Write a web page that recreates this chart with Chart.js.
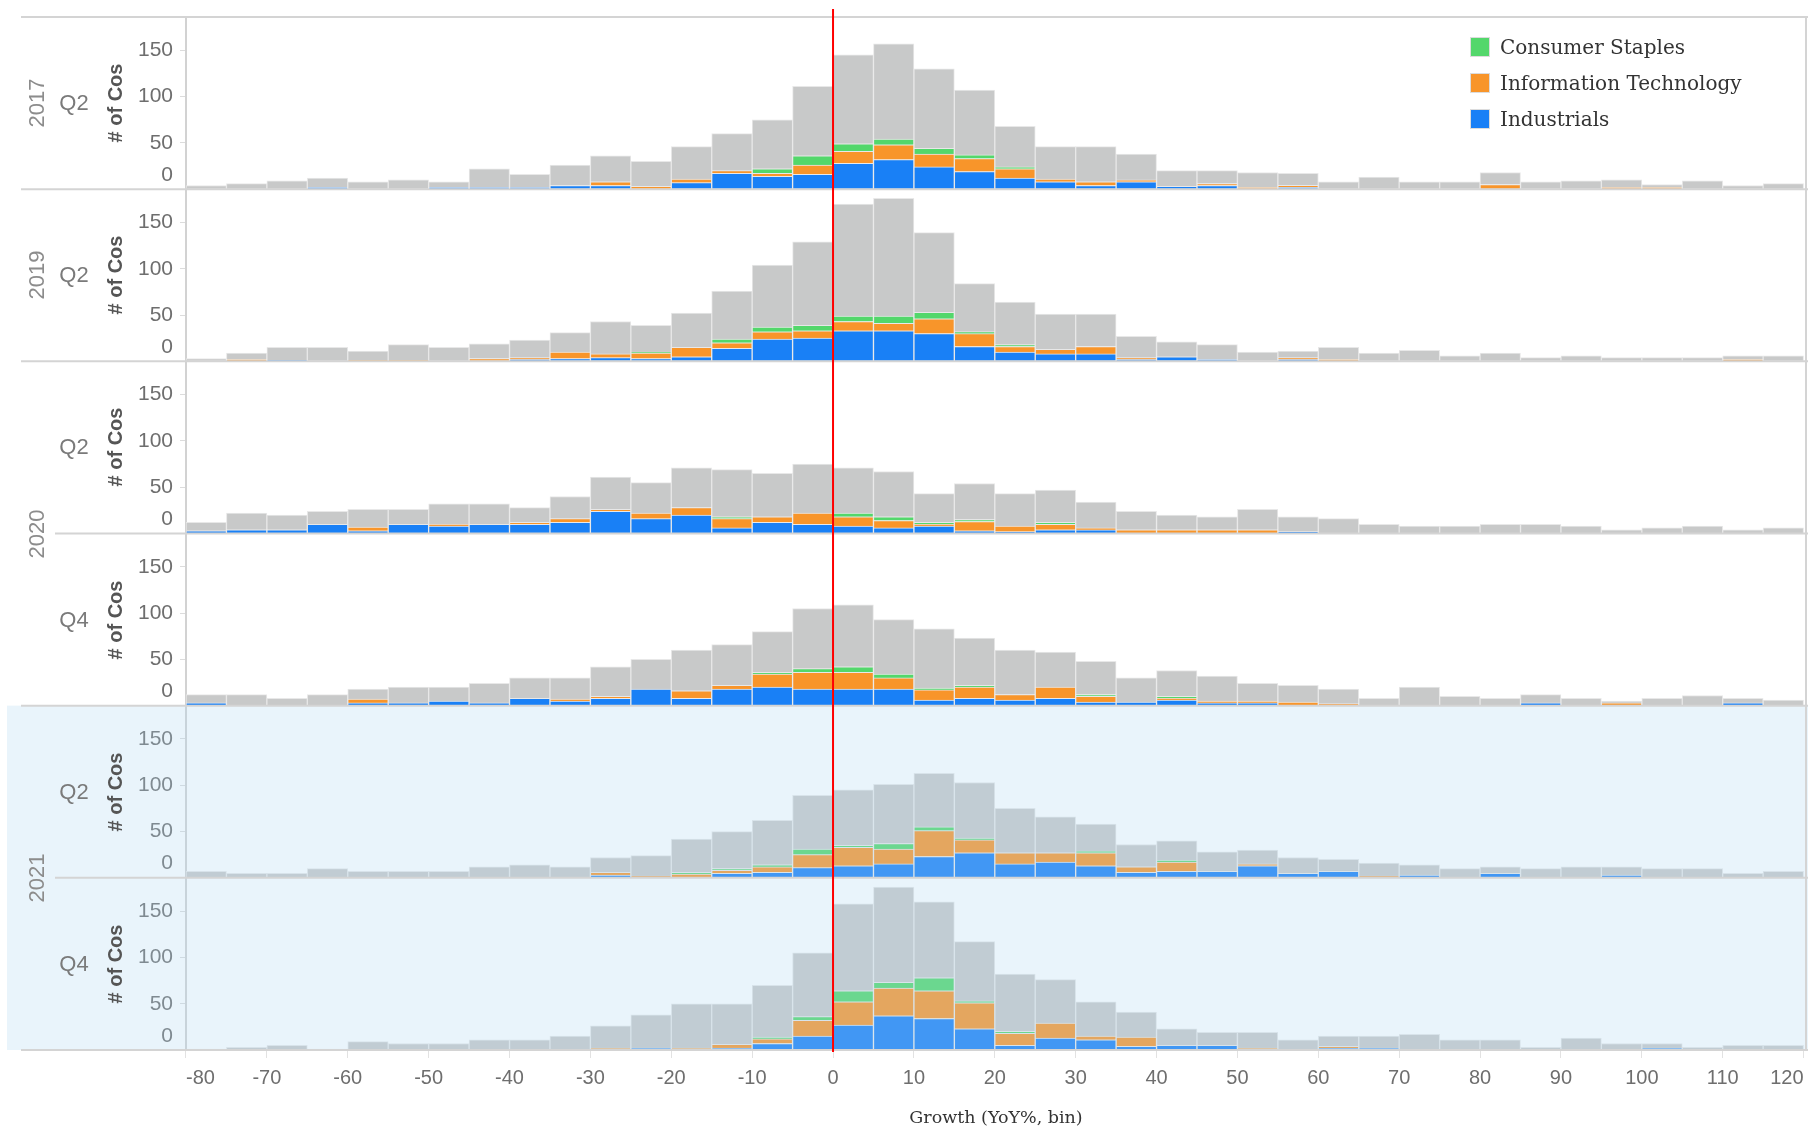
<!DOCTYPE html>
<html>
<head>
<meta charset="utf-8">
<script src="https://cdn.jsdelivr.net/npm/chart.js@4.4.1/dist/chart.umd.min.js"></script>
<style>
  html, body { margin: 0; padding: 0; background: #fff; }
  #wrap { position: relative; width: 1808px; height: 1132px; overflow: hidden; }
  #chart { position: absolute; left: 0; top: 0; }
  .lbl { position: absolute; white-space: nowrap; line-height: 1; font-family: "Liberation Sans", Arial, sans-serif; }
  .rot { transform: translate(-50%, -50%) rotate(-90deg); }
  .ctr { transform: translate(-50%, -50%); }
  .yr  { font-size: 22px; color: #8c8c8c; }
  .qt  { font-size: 22px; color: #7a7a7a; }
  .ttl { font-size: 20px; font-weight: bold; color: #555; }
  #legend { position: absolute; left: 1470px; top: 29px; font-family: "DejaVu Serif", serif; font-size: 20px; color: #333; }
  #legend .row { display: flex; align-items: center; height: 36px; }
  #legend .sw { width: 20px; height: 20px; border: 1px solid #dcdcdc; margin-right: 10px; box-sizing: border-box; }
</style>
</head>
<body>
<div id="wrap">
  <canvas id="chart" width="1808" height="1132"></canvas>
  <div id="legend"></div>
</div>
<script>
// Growth bins (lower edge of each 5-point bin, YoY %)
const binStarts = [-80, -75, -70, -65, -60, -55, -50, -45, -40, -35,
                   -30, -25, -20, -15, -10, -5, 0, 5, 10, 15,
                   20, 25, 30, 35, 40, 45, 50, 55, 60, 65,
                   70, 75, 80, 85, 90, 95, 100, 105, 110, 115];
const binWidth = 5;

const growthTicks = [-80, -70, -60, -50, -40, -30, -20, -10, 0, 10, 20, 30, 40, 50, 60, 70, 80, 90, 100, 110, 120];
const countTicks = [0, 50, 100, 150];
const countTitle = '# of Cos';
const growthTitle = 'Growth (YoY%, bin)';
const highlightYear = '2021';

// Company counts per bin, by sector, for each reporting period
const industrials_2017Q2 = [0,0,0,2,0,0,2,2,2,4, 4,0,7,17,14,16,28,32,24,19, 12,8,4,8,3,4,0,2,0,0, 0,0,0,0,0,0,0,0,0,0];
const infoTech_2017Q2    = [0,0,0,0,0,0,0,0,0,0, 4,3,4,3,3,10,13,16,14,14, 10,3,4,2,0,2,2,2,0,0, 0,0,5,0,0,2,2,0,0,0];
const staples_2017Q2     = [0,0,0,0,0,0,0,0,0,0, 0,0,0,0,5,10,8,6,6,4, 2,0,0,0,0,0,0,0,0,0, 0,0,0,0,0,0,0,0,0,0];
const others_2017Q2      = [4,6,9,10,8,10,6,20,14,22, 28,27,35,40,53,75,96,103,86,70, 44,35,38,28,17,14,16,13,8,13, 8,8,13,8,9,8,3,9,4,6];

const industrials_2019Q2 = [0,0,1,0,0,0,0,0,2,3, 4,3,5,14,24,25,33,33,30,16, 10,8,8,2,5,2,0,2,0,0, 0,0,0,0,0,0,0,0,0,0];
const infoTech_2019Q2    = [0,2,0,0,1,1,0,3,2,7, 4,6,10,6,8,8,10,8,16,14, 6,5,8,2,0,0,0,2,2,0, 0,0,0,0,0,0,0,0,2,0];
const staples_2019Q2     = [0,0,0,0,0,0,0,0,0,0, 0,1,0,4,5,6,6,8,7,2, 2,0,0,0,0,0,0,0,0,0, 0,0,0,0,0,0,0,0,0,0];
const others_2019Q2      = [3,7,14,15,10,17,15,16,19,21, 35,29,37,52,67,90,121,127,86,52, 46,38,35,23,16,16,10,7,13,9, 12,6,9,4,6,4,4,4,4,6];

const industrials_2020Q2 = [3,4,4,10,3,10,8,10,10,12, 24,16,20,6,12,10,8,6,8,3, 2,4,4,0,0,0,0,2,0,0, 0,0,0,0,0,0,0,0,0,0];
const infoTech_2020Q2    = [0,0,0,0,4,0,2,0,2,4, 2,6,8,10,6,12,10,8,2,10, 6,6,2,4,4,4,4,0,0,0, 0,0,0,0,0,0,0,0,0,0];
const staples_2020Q2     = [0,0,0,0,0,0,0,0,0,0, 0,0,0,2,0,0,4,4,2,2, 0,2,0,0,0,0,0,0,0,0, 0,0,0,0,0,0,0,0,0,0];
const others_2020Q2      = [9,18,16,14,19,16,22,22,16,24, 35,33,43,51,47,53,49,49,31,39, 35,35,28,20,16,14,22,16,16,10, 8,8,10,10,8,4,6,8,4,6];

const industrials_2020Q4 = [3,0,0,0,3,3,5,3,8,5, 8,18,8,18,20,18,18,18,6,8, 6,8,4,4,6,3,3,0,0,0, 0,0,0,3,0,0,0,0,3,0];
const infoTech_2020Q4    = [0,0,0,0,4,0,0,0,0,2, 2,0,8,4,14,18,18,12,11,12, 6,12,6,0,2,2,2,4,2,0, 0,0,0,0,0,3,0,0,0,0];
const staples_2020Q4     = [0,0,0,0,0,0,0,0,0,0, 0,0,0,0,2,4,6,4,2,2, 0,0,2,0,2,0,0,0,0,0, 0,0,0,0,0,0,0,0,0,0];
const others_2020Q4      = [9,12,8,12,11,17,15,21,22,23, 32,32,44,44,44,65,67,59,64,51, 48,38,36,26,28,27,19,18,16,8, 20,10,8,9,8,2,8,11,5,6];

const industrials_2021Q2 = [0,0,0,0,0,0,0,0,0,0, 3,0,0,5,6,11,13,15,23,27, 15,17,13,6,7,7,13,5,7,0, 3,0,5,0,0,3,0,0,0,0];
const infoTech_2021Q2    = [0,0,0,0,0,0,0,0,0,0, 3,2,4,3,6,14,20,16,28,14, 12,10,14,6,10,0,2,0,0,2, 0,0,0,0,0,0,0,0,0,0];
const staples_2021Q2     = [0,0,0,0,0,0,0,0,0,0, 0,0,2,2,2,6,2,6,4,2, 0,0,2,0,2,0,0,0,0,0, 0,0,0,0,0,0,0,0,0,0];
const others_2021Q2      = [7,5,5,10,7,7,7,12,14,12, 16,22,36,40,48,58,60,64,58,60, 48,39,29,24,21,21,15,17,13,14, 11,10,7,10,12,9,10,10,5,7];

const industrials_2021Q4 = [0,0,0,0,0,0,0,0,0,0, 0,2,0,2,7,15,27,37,34,23, 5,13,11,4,5,5,0,0,2,2, 0,0,0,0,0,0,2,0,0,0];
const infoTech_2021Q4    = [0,0,0,0,0,0,0,0,0,0, 2,0,2,4,5,17,25,30,30,28, 13,16,4,10,0,0,2,0,2,0, 0,0,0,0,0,0,0,0,0,0];
const staples_2021Q4     = [0,0,0,0,0,0,0,0,0,0, 0,0,0,0,2,4,12,6,14,2, 2,0,0,0,0,0,0,0,0,0, 0,0,0,0,0,0,0,0,0,0];
const others_2021Q4      = [1,3,5,1,9,7,7,11,11,15, 24,36,48,44,56,69,94,103,82,64, 62,47,37,27,18,14,17,11,11,13, 17,11,11,3,13,7,5,3,5,5];

// Sectors in stacking order (bottom to top)
const sectors = [
  { key: 'ind',    label: 'Industrials',            color: '#1980f6', legend: true },
  { key: 'it',     label: 'Information Technology', color: '#f8952a', legend: true },
  { key: 'cs',     label: 'Consumer Staples',       color: '#53d76b', legend: true },
  { key: 'other',  label: 'Other sectors',          color: '#c8c9c9', legend: false }
];

const panels = [
  { year: '2017', quarter: 'Q2', ind: industrials_2017Q2, it: infoTech_2017Q2, cs: staples_2017Q2, other: others_2017Q2 },
  { year: '2019', quarter: 'Q2', ind: industrials_2019Q2, it: infoTech_2019Q2, cs: staples_2019Q2, other: others_2019Q2 },
  { year: '2020', quarter: 'Q2', ind: industrials_2020Q2, it: infoTech_2020Q2, cs: staples_2020Q2, other: others_2020Q2 },
  { year: '2020', quarter: 'Q4', ind: industrials_2020Q4, it: infoTech_2020Q4, cs: staples_2020Q4, other: others_2020Q4 },
  { year: '2021', quarter: 'Q2', ind: industrials_2021Q2, it: infoTech_2021Q2, cs: staples_2021Q2, other: others_2021Q2 },
  { year: '2021', quarter: 'Q4', ind: industrials_2021Q4, it: infoTech_2021Q4, cs: staples_2021Q4, other: others_2021Q4 }
];

// One stacked-bar dataset per sector per period, each period on its own y axis
const datasets = [];
panels.forEach((p, k) => {
  sectors.forEach(s => {
    datasets.push({
      label: s.label + ' ' + p.year + ' ' + p.quarter,
      data: binStarts.map((b, i) => ({ x: b + binWidth / 2, y: p[s.key][i] })),
      yAxisID: 'y' + k,
      backgroundColor: s.color,
      borderColor: '#e8e8e8',
      borderWidth: 1,
      grouped: false,
      barPercentage: 1,
      categoryPercentage: 1
    });
  });
});

const tickFont = { family: '"Liberation Sans", Arial, sans-serif', size: 21 };

const scales = {
  x: {
    type: 'linear',
    position: 'bottom',
    offset: false,
    min: -80,
    max: 120.3,
    afterFit: s => { s.height = 82; s.paddingLeft = 0; s.paddingRight = 0; },
    afterBuildTicks: s => { s.ticks = growthTicks.map(v => ({ value: v })); },
    ticks: { align: 'inner', autoSkip: false, maxRotation: 0, padding: 8,
             font: { family: '"Liberation Sans", Arial, sans-serif', size: 20 }, color: '#6e6e6e' },
    grid: { offset: false, drawOnChartArea: false, drawTicks: true, tickLength: 8, color: '#e2e2e2' },
    border: { display: false },
    title: { display: true, text: growthTitle, color: '#333',
             font: { family: '"DejaVu Serif", serif', size: 17.5 }, padding: { top: 0, bottom: 3 } }
  }
};
panels.forEach((p, k) => {
  scales['y' + k] = {
    type: 'linear',
    position: 'left',
    stack: 'periods',
    stackWeight: 1,
    weight: panels.length - k,
    stacked: true,
    min: 0,
    max: 186,
    afterFit: s => { s.width = 64; s.paddingTop = 0; s.paddingBottom = 0; },
    afterBuildTicks: s => { s.ticks = countTicks.map(v => ({ value: v })); },
    ticks: {
      // the zero label sits just above the baseline
      callback: v => (v === 0 ? ['0', ''] : String(v)),
      autoSkip: false,
      font: Object.assign({ lineHeight: 1.35 }, tickFont),
      color: '#6e6e6e',
      padding: 7
    },
    grid: { drawOnChartArea: false, drawTicks: true, tickLength: 6, color: '#dcdcdc' },
    border: { display: true, color: '#d2d2d2', width: 2 }
  };
});

// Row banding, panel separators and the zero-growth marker
const panelFrame = {
  id: 'panelFrame',
  afterDatasetsDraw(chart) {
    const ctx = chart.ctx;
    const area = chart.chartArea;
    const ys = panels.map((p, k) => chart.scales['y' + k]);
    ctx.save();

    const hl = panels.map((p, k) => k).filter(k => panels[k].year === highlightYear);
    if (hl.length) {
      const top = ys[hl[0]].top;
      const bottom = ys[hl[hl.length - 1]].bottom;
      ctx.fillStyle = 'rgba(173, 216, 240, 0.27)';
      ctx.fillRect(7, top, chart.width - 7, bottom - top);
    }

    ctx.strokeStyle = '#d4d4d4';
    ctx.lineWidth = 2;
    const hline = (x0, y) => { ctx.beginPath(); ctx.moveTo(x0, y); ctx.lineTo(chart.width, y); ctx.stroke(); };
    hline(21, area.top);
    panels.forEach((p, k) => {
      const next = panels[k + 1];
      hline(next && next.year === p.year ? 55 : 21, ys[k].bottom);
    });
    ctx.beginPath();
    ctx.moveTo(area.right, area.top);
    ctx.lineTo(area.right, area.bottom);
    ctx.stroke();

    const xz = chart.scales.x.getPixelForValue(0);
    ctx.strokeStyle = '#ff0000';
    ctx.lineWidth = 2;
    ctx.beginPath();
    ctx.moveTo(xz, area.top - 8);
    ctx.lineTo(xz, area.bottom + 2);
    ctx.stroke();
    ctx.restore();
  }
};

const chart = new Chart(document.getElementById('chart'), {
  type: 'bar',
  data: { datasets },
  options: {
    responsive: false,
    animation: false,
    devicePixelRatio: 1,
    layout: { padding: { left: 122, top: 17, right: 2, bottom: 0 } },
    plugins: { legend: { display: false }, tooltip: { enabled: false } },
    scales
  },
  plugins: [panelFrame]
});

// Row headers: year, quarter and axis title for each period
const wrap = document.getElementById('wrap');
function addLabel(text, cls, x, y) {
  const d = document.createElement('div');
  d.className = 'lbl ' + cls;
  d.textContent = text;
  d.style.left = x + 'px';
  d.style.top = y + 'px';
  wrap.appendChild(d);
}
[...new Set(panels.map(p => p.year))].forEach(yr => {
  const ks = panels.map((p, k) => k).filter(k => panels[k].year === yr);
  const top = chart.scales['y' + ks[0]].top;
  const bottom = chart.scales['y' + ks[ks.length - 1]].bottom;
  addLabel(yr, 'rot yr', 37, (top + bottom) / 2);
});
panels.forEach((p, k) => {
  const s = chart.scales['y' + k];
  const cy = (s.top + s.bottom) / 2;
  addLabel(p.quarter, 'ctr qt', 74, cy);
  addLabel(countTitle, 'rot ttl', 115, cy);
});

// Legend (top row first)
const legend = document.getElementById('legend');
sectors.filter(s => s.legend).slice().reverse().forEach(s => {
  const row = document.createElement('div');
  row.className = 'row';
  const sw = document.createElement('div');
  sw.className = 'sw';
  sw.style.background = s.color;
  const tx = document.createElement('span');
  tx.textContent = s.label;
  row.appendChild(sw);
  row.appendChild(tx);
  legend.appendChild(row);
});
</script>
</body>
</html>
